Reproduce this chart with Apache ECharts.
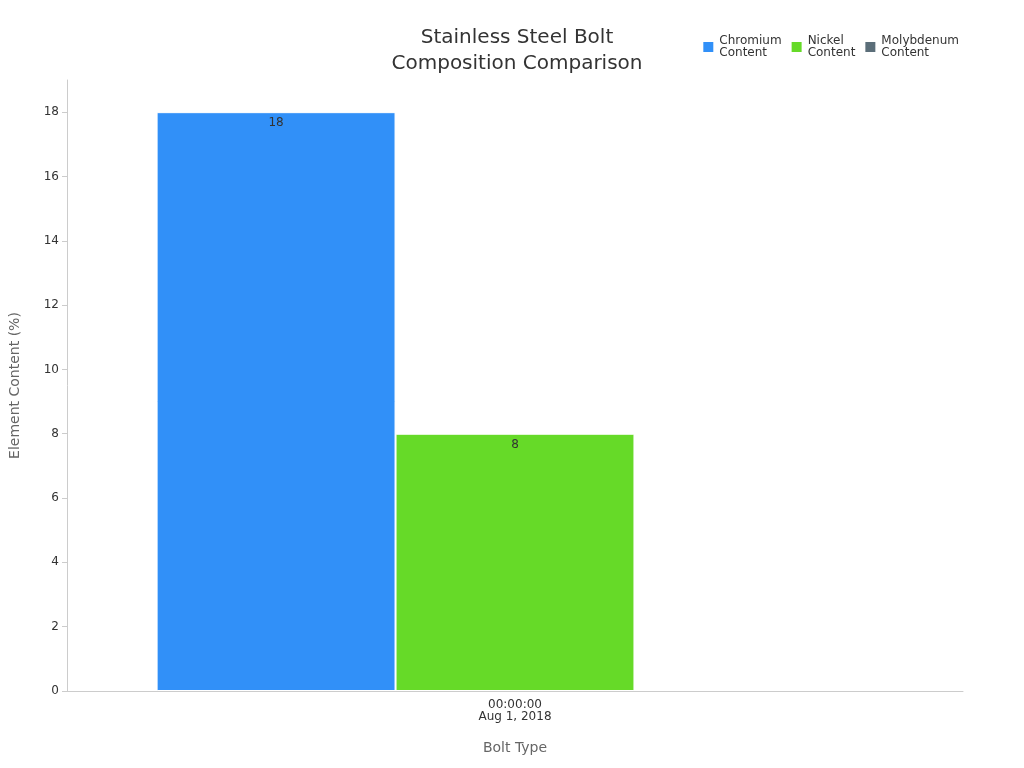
<!DOCTYPE html>
<html>
<head>
<meta charset="utf-8">
<script src="https://cdn.jsdelivr.net/npm/echarts@6/dist/echarts.min.js"></script>
<style>html,body{margin:0;padding:0;}#chart{width:1024px;height:768px;}</style>
</head>
<body>
<div id="chart"></div>
<script>
var categories = ['00:00:00\nAug 1, 2018'];
var seriesNames = ['Chromium\nContent', 'Nickel\nContent', 'Molybdenum\nContent'];
var chromium = [18];
var nickel = [8];
var molybdenum = [null];
var colors = ['#3190f8', '#66da28', '#5b6e79'];

var chart = echarts.init(document.getElementById('chart'));
var dataSets = [chromium, nickel, molybdenum];
var series = dataSets.map(function (d, i) {
    return {
        name: seriesNames[i],
        type: 'bar',
        data: d,
        barGap: 0,
        barCategoryGap: '20%',
        itemStyle: {color: colors[i], borderColor: '#ffffff', borderWidth: 1},
        label: {show: true, position: 'insideTop', color: '#333', fontSize: 12}
    };
});
chart.setOption({
    textStyle: {fontFamily: 'DejaVu Sans'},
    title: {
        text: 'Stainless Steel Bolt\nComposition Comparison',
        left: 512, top: 20, textAlign: 'center',
        textStyle: {fontSize: 20, fontWeight: 'normal', color: '#333', lineHeight: 26}
    },
    legend: {
        right: 60, top: 30, itemWidth: 12, itemHeight: 12, icon: 'rect',
        textStyle: {fontSize: 12, color: '#333'}
    },
    grid: {left: 60, right: 61, top: 80, bottom: 77},
    xAxis: {
        type: 'category', data: categories,
        name: 'Bolt Type', nameLocation: 'middle', nameGap: 50,
        nameTextStyle: {fontSize: 14, color: '#666'},
        axisLine: {lineStyle: {color: '#ccc'}},
        axisTick: {show: false},
        axisLabel: {color: '#333', fontSize: 12}
    },
    yAxis: {
        type: 'value', min: 0, max: 19, interval: 2,
        name: 'Element Content (%)', nameLocation: 'middle', nameGap: 45,
        nameTextStyle: {fontSize: 14, color: '#666'},
        axisLine: {show: true, lineStyle: {color: '#ccc'}},
        axisTick: {show: true, lineStyle: {color: '#ccc'}},
        splitLine: {show: false},
        axisLabel: {color: '#333', fontSize: 12, showMaxLabel: false}
    },
    series: series
});
</script>
</body>
</html>
